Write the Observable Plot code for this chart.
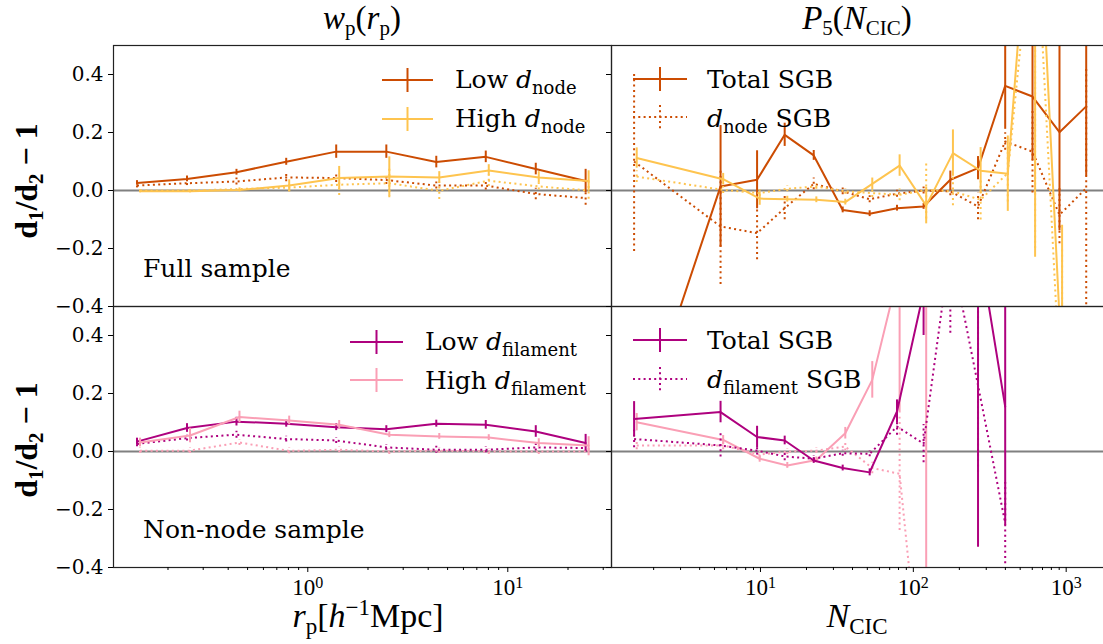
<!DOCTYPE html>
<html><head><meta charset="utf-8">
<script src="https://cdn.jsdelivr.net/npm/d3@7"></script>
<script src="https://cdn.jsdelivr.net/npm/@observablehq/plot@0.6"></script>
<style>
body{margin:0;background:#fff;}
#wrap{position:relative;width:1103px;height:644px;overflow:hidden;background:#fff;}
#wrap svg{position:absolute;}
</style></head><body><div id="wrap"></div>
<script>
// ---------- data ----------
const rp = [0.14, 0.249, 0.44, 0.78, 1.387, 2.47, 4.39, 7.76, 13.8, 24.5];
const ncic = [1.49, 5.48, 9.5, 14.4, 22.3, 34.5, 51.8, 78.2, 116.7, 174.6, 265, 399, 602, 904, 1352];

// top-left: w_p, full sample
const lowNode = [0.026, 0.040, 0.063, 0.099, 0.134, 0.134, 0.098, 0.116, 0.074, 0.033];
const lowNodeErr = [0.008, 0.01, 0.01, 0.012, 0.023, 0.023, 0.02, 0.02, 0.02, 0.04];
const highNode = [-0.003, -0.003, 0.002, 0.017, 0.043, 0.048, 0.045, 0.069, 0.045, 0.033];
const highNodeErr = [0.005, 0.005, 0.007, 0.02, 0.04, 0.068, 0.02, 0.02, 0.02, 0.035];
const lowNodeSGB = [0.017, 0.025, 0.031, 0.045, 0.043, 0.036, 0.017, 0.017, -0.012, -0.026];
const lowNodeSGBErr = [0.008, 0.008, 0.012, 0.015, 0.015, 0.015, 0.012, 0.015, 0.02, 0.025];
const highNodeSGB = [0.0, 0.0, 0.005, 0.01, 0.02, 0.025, -0.001, 0.034, 0.014, 0.0];
const highNodeSGBErr = [0.005, 0.005, 0.008, 0.015, 0.037, 0.05, 0.03, 0.02, 0.012, 0.03];

// bottom-left: w_p, non-node sample
const lowFil = [0.034, 0.081, 0.103, 0.096, 0.084, 0.077, 0.096, 0.092, 0.069, 0.029];
const lowFilErr = [0.012, 0.015, 0.015, 0.012, 0.012, 0.012, 0.012, 0.015, 0.02, 0.03];
const highFil = [0.031, 0.055, 0.119, 0.107, 0.092, 0.058, 0.052, 0.048, 0.029, 0.021];
const highFilErr = [0.015, 0.025, 0.02, 0.015, 0.015, 0.01, 0.01, 0.01, 0.015, 0.03];
const lowFilSGB = [0.026, 0.046, 0.058, 0.043, 0.038, 0.014, 0.006, 0.006, 0.014, 0.012];
const lowFilSGBErr = [0.01, 0.01, 0.012, 0.01, 0.01, 0.01, 0.012, 0.01, 0.012, 0.015];
const highFilSGB = [0.003, 0.003, 0.031, 0.002, 0.006, 0.0, 0.003, 0.0, 0.0, 0.0];
const highFilSGBErr = [0.01, 0.01, 0.01, 0.01, 0.01, 0.01, 0.01, 0.01, 0.01, 0.015];

// top-right: P5(N_CIC), full sample
const totalLowNode = [-0.88, 0.014, 0.037, 0.192, 0.121, -0.067, -0.080, -0.061, -0.055, 0.037, 0.077, 0.361, 0.324, 0.201, 0.290];
const totalLowNodeErr = [0.3, 0.21, 0.10, 0.04, 0.017, 0.01, 0.01, 0.01, 0.01, 0.03, 0.04, 0.15, 0.22, 0.34, 0.24];
const sgbLowNode = [0.100, -0.124, -0.147, -0.061, 0.023, -0.003, -0.030, -0.011, 0.0, -0.003, -0.055, 0.169, 0.134, -0.084, 0.008];
const sgbLowNodeErr = [0.31, 0.2, 0.092, 0.04, 0.02, 0.012, 0.012, 0.012, 0.012, 0.015, 0.046, 0.03, 0.143, 0.1, 0.42];
const totalHighNode = [0.112, 0.039, -0.028, -0.030, -0.032, -0.040, 0.023, 0.086, -0.052, 0.129, 0.068, 0.058, 1.27, -0.62];
const totalHighNodeErr = [0.035, 0.02, 0.023, 0.01, 0.01, 0.01, 0.02, 0.037, 0.063, 0.08, 0.08, 0.13, 1.5, 0.5];
const sgbHighNode = [0.048, 0.002, -0.009, 0.006, 0.014, -0.003, -0.009, -0.015, 0.002, -0.003, -0.032, 0.06, 1.0, -0.8];
const sgbHighNodeErr = [0.02, 0.012, 0.012, 0.01, 0.01, 0.01, 0.015, 0.02, 0.1, 0.05, 0.07, 0.1, 1.2, 0.6];

// bottom-right: P5(N_CIC), non-node sample
const totalLowFil = [0.112, 0.136, 0.050, 0.038, -0.031, -0.057, -0.072, 0.138, 0.55, 1.2, 0.73, 0.155];
const totalLowFilErr = [0.06, 0.037, 0.037, 0.015, 0.01, 0.01, 0.012, 0.04, 0.15, 0.5, 1.06, 0.41];
const sgbLowFil = [0.043, 0.021, 0.003, -0.017, -0.025, -0.006, -0.008, 0.086, 0.027, 0.708, 0.228, -0.247];
const sgbLowFilErr = [0.03, 0.04, 0.015, 0.015, 0.01, 0.01, 0.01, 0.03, 0.066, 0.3, 0.3, 0.14];
const totalHighFil = [0.101, 0.040, -0.025, -0.048, -0.029, 0.063, 0.247, 0.633, 1.2];
const totalHighFilErr = [0.03, 0.015, 0.012, 0.01, 0.01, 0.02, 0.063, 0.5, 1.8];
const sgbHighFil = [0.021, 0.021, -0.011, 0.0, 0.003, 0.017, -0.057, -0.077, -0.99];
const sgbHighFilErr = [0.015, 0.015, 0.012, 0.01, 0.01, 0.015, 0.02, 0.195, 0.3];

const yTicks = [-0.4, -0.2, 0, 0.2, 0.4];
const leftMajor = [1, 10];
const leftMinor = [0.2,0.3,0.4,0.5,0.6,0.7,0.8,0.9,2,3,4,5,6,7,8,9,20,30];
const rightMajor = [10, 100, 1000];
const rightMinor = [2,3,4,5,6,7,8,9,20,30,40,50,60,70,80,90,200,300,400,500,600,700,800,900];

// ---------- style ----------
const RED = "#cc4c02", YEL = "#fec44f", PUR = "#ae017e", PNK = "#fa9fb5";
const DOT = "2,3.3";
const wrap = document.getElementById("wrap");
const fmtY = d => d === 0 ? "0.0" : d.toFixed(1).replace("-", "\u2212");

function panel({series, xDomain, majors, minors, showX, yLabels, left, top, width, height, mL, mR, mT, mB}) {
  const marks = [Plot.ruleY([0], {stroke: "#808080", strokeWidth: 2})];
  for (const s of series) {
    const rows = s.y.map((v, i) => ({x: s.x[i] * s.dodge, y: v, lo: v - s.err[i], hi: v + s.err[i]}));
    const o = {stroke: s.color, strokeWidth: 2, clip: true};
    if (s.dotted) { o.strokeDasharray = DOT; o.strokeLinecap = "butt"; }
    marks.push(Plot.ruleX(rows, {x: "x", y1: "lo", y2: "hi", ...o}));
    marks.push(Plot.line(rows, {x: "x", y: "y", ...o}));
  }
  marks.push(Plot.frame({stroke: "#222", strokeWidth: 1.2}));
  marks.push(Plot.axisY({ticks: yTicks, tickSize: 5, tickPadding: 5, tickFormat: yLabels ? fmtY : () => "",
    fontSize: 20, fontFamily: "DejaVu Serif", label: null}));
  if (showX) {
    marks.push(Plot.axisX({ticks: minors, tickSize: 3, tickFormat: () => "", label: null}));
    marks.push(Plot.axisX({ticks: majors, tickSize: 5, tickPadding: 6,
      tickFormat: d => "10^" + Math.round(Math.log10(d)), fontSize: 23, fontFamily: "Liberation Serif", label: null}));
  }
  const svg = Plot.plot({
    width, height, marginLeft: mL, marginRight: mR, marginTop: mT, marginBottom: mB,
    x: {type: "log", domain: xDomain, axis: showX ? undefined : null},
    y: {domain: [-0.4, 0.5]},
    style: {background: "transparent", fontFamily: "DejaVu Serif", fontSize: "20px", overflow: "visible"},
    marks
  });
  svg.style.left = left + "px";
  svg.style.top = top + "px";
  const ns = "http://www.w3.org/2000/svg";
  svg.querySelectorAll('g[aria-label="x-axis tick label"] text').forEach(t => {
    const m = t.textContent.match(/^10\^(-?\d+)$/);
    if (!m) return;
    t.textContent = "";
    const a = document.createElementNS(ns, "tspan"); a.textContent = "10"; t.appendChild(a);
    const b = document.createElementNS(ns, "tspan"); b.textContent = m[1];
    b.setAttribute("dy", "-0.42em"); b.setAttribute("font-size", "16"); t.appendChild(b);
  });
  wrap.appendChild(svg);
}

const L = {xDomain: [0.1068, 33.0], majors: leftMajor, minors: leftMinor, yLabels: true, left: 0, width: 620, mL: 113, mR: 9};
const R = {xDomain: [1.06, 1781], majors: rightMajor, minors: rightMinor, yLabels: false, left: 600, width: 504, mL: 11, mR: 0};
const T = {top: 35, height: 281, mT: 10, mB: 10, showX: false};
const B = {top: 296, height: 348, mT: 10, mB: 77, showX: true};

panel({...L, ...T, series: [
  {x: rp, y: lowNodeSGB, err: lowNodeSGBErr, color: RED, dotted: true, dodge: 1},
  {x: rp, y: lowNode, err: lowNodeErr, color: RED, dotted: false, dodge: 1},
  {x: rp, y: highNodeSGB, err: highNodeSGBErr, color: YEL, dotted: true, dodge: 1.035},
  {x: rp, y: highNode, err: highNodeErr, color: YEL, dotted: false, dodge: 1.035}
]});
panel({...L, ...B, series: [
  {x: rp, y: lowFilSGB, err: lowFilSGBErr, color: PUR, dotted: true, dodge: 1},
  {x: rp, y: lowFil, err: lowFilErr, color: PUR, dotted: false, dodge: 1},
  {x: rp, y: highFilSGB, err: highFilSGBErr, color: PNK, dotted: true, dodge: 1.035},
  {x: rp, y: highFil, err: highFilErr, color: PNK, dotted: false, dodge: 1.035}
]});
panel({...R, ...T, series: [
  {x: ncic, y: sgbLowNode, err: sgbLowNodeErr, color: RED, dotted: true, dodge: 1},
  {x: ncic, y: totalLowNode, err: totalLowNodeErr, color: RED, dotted: false, dodge: 1},
  {x: ncic, y: sgbHighNode, err: sgbHighNodeErr, color: YEL, dotted: true, dodge: 1.04},
  {x: ncic, y: totalHighNode, err: totalHighNodeErr, color: YEL, dotted: false, dodge: 1.04}
]});
panel({...R, ...B, series: [
  {x: ncic, y: sgbHighFil, err: sgbHighFilErr, color: PNK, dotted: true, dodge: 1.04},
  {x: ncic, y: totalHighFil, err: totalHighFilErr, color: PNK, dotted: false, dodge: 1.04},
  {x: ncic, y: sgbLowFil, err: sgbLowFilErr, color: PUR, dotted: true, dodge: 1},
  {x: ncic, y: totalLowFil, err: totalLowFilErr, color: PUR, dotted: false, dodge: 1}
]});

// ---------- text overlay: titles, labels, legends ----------
const sub = (s, fs = 21, d = 6) => `<tspan font-size="${fs}" dy="${d}">${s}</tspan>`;
const up = (s, d = 6) => `<tspan dy="${-d}">${s}</tspan>`;
const it = s => `<tspan font-style="italic">${s}</tspan>`;
function swatch(x1, x2, y, color, dotted) {
  const da = dotted ? `stroke-dasharray="${DOT}"` : "";
  const xc = (x1 + x2) / 2;
  return `<line x1="${x1}" x2="${x2}" y1="${y}" y2="${y}" stroke="${color}" stroke-width="2" ${da}/>
          <line x1="${xc}" x2="${xc}" y1="${y - 12}" y2="${y + 12}" stroke="${color}" stroke-width="2" ${da}/>`;
}
const LF = `font-family="DejaVu Serif" font-size="25"`;
const TF = `font-family="Liberation Serif" font-size="33"`;
const XF = `font-family="Liberation Serif" font-size="34"`;
const ov = `<svg xmlns="http://www.w3.org/2000/svg" width="1103" height="644" style="left:0;top:0">
<text x="362" y="29" text-anchor="middle" ${TF}>${it("w")}${sub("p")}${up("(")}${it("r")}${sub("p")}${up(")")}</text>
<text x="857" y="29" text-anchor="middle" ${TF}>${it("P")}${sub("5")}${up("(")}${it("N")}${sub("CIC")}${up(")")}</text>
<text x="368" y="627" text-anchor="middle" ${XF}>${it("r")}${sub("p", 23, 7)}${up("[", 7)}${it("h")}${sub("\u22121", 23, -12)}<tspan dy="12">Mpc]</tspan></text>
<text x="857" y="627" text-anchor="middle" ${XF}>${it("N")}${sub("CIC", 23, 7)}</text>
<text transform="translate(37,181) rotate(-90)" text-anchor="middle" font-family="Liberation Serif" font-weight="bold" font-size="32">d${sub("1")}${up("/d")}${sub("2")}${up(" \u2212 1")}</text>
<text transform="translate(37,440) rotate(-90)" text-anchor="middle" font-family="Liberation Serif" font-weight="bold" font-size="32">d${sub("1")}${up("/d")}${sub("2")}${up(" \u2212 1")}</text>
<text x="143" y="277" ${LF}>Full sample</text>
<text x="143" y="538" ${LF}>Non-node sample</text>
${swatch(382, 433, 80, RED, false)}
<text x="455" y="88" ${LF}>Low ${it("d")}${sub("node", 18, 6)}</text>
${swatch(382, 433, 119, YEL, false)}
<text x="455" y="127" ${LF}>High ${it("d")}${sub("node", 18, 6)}</text>
${swatch(633, 687, 79, RED, false)}
<text x="707" y="88" ${LF}>Total SGB</text>
${swatch(633, 687, 117, RED, true)}
<text x="707" y="127" ${LF}>${it("d")}${sub("node", 18, 6)}${up(" SGB")}</text>
${swatch(350, 403, 342, PUR, false)}
<text x="425" y="350" ${LF}>Low ${it("d")}${sub("filament", 18, 6)}</text>
${swatch(350, 403, 380, PNK, false)}
<text x="425" y="389" ${LF}>High ${it("d")}${sub("filament", 18, 6)}</text>
${swatch(633, 687, 340, PUR, false)}
<text x="707" y="349" ${LF}>Total SGB</text>
${swatch(633, 687, 379, PUR, true)}
<text x="707" y="388" ${LF}>${it("d")}${sub("filament", 18, 6)}${up(" SGB")}</text>
</svg>`;
wrap.insertAdjacentHTML("beforeend", ov);
</script></body></html>
